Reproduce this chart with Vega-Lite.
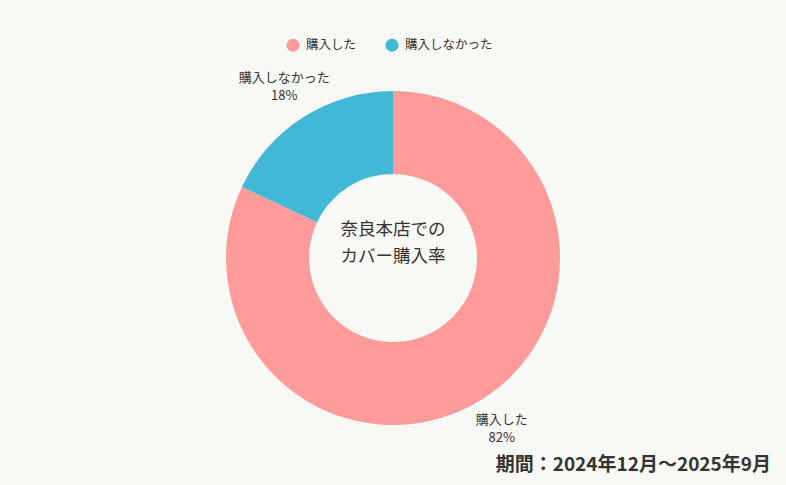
{
  "$schema": "https://vega.github.io/schema/vega-lite/v6.json",
  "width": 786,
  "height": 454,
  "autosize": {"type": "none"},
  "padding": {"top": 31, "left": 0, "right": 0, "bottom": 0},
  "background": "#F8F8F4",
  "config": {"view": {"stroke": null}, "font": "Noto Sans CJK JP"},
  "title": {
    "text": "期間：2024年12月～2025年9月",
    "orient": "bottom",
    "anchor": "end",
    "frame": "group",
    "offset": -29,
    "dx": -15,
    "fontSize": 19,
    "fontWeight": "bold",
    "color": "#333333"
  },
  "datasets": {
    "share": [
      {"label": "購入した", "value": 82, "caption": "購入した\n82%"},
      {"label": "購入しなかった", "value": 18, "caption": "購入しなかった\n18%"}
    ],
    "center": [{"text": "奈良本店での\nカバー購入率"}]
  },
  "layer": [
    {
      "data": {"name": "share"},
      "mark": {"type": "arc", "outerRadius": 167, "innerRadius": 84},
      "encoding": {
        "theta": {"field": "value", "type": "quantitative", "stack": true},
        "order": {"field": "value", "type": "quantitative", "sort": "descending"},
        "color": {
          "field": "label",
          "type": "nominal",
          "scale": {"domain": ["購入した", "購入しなかった"], "range": ["#FF9A9A", "#42B8D7"]},
          "legend": {
            "title": null,
            "orient": "none",
            "legendX": 286,
            "legendY": 7,
            "direction": "horizontal",
            "symbolType": "circle",
            "symbolSize": 170,
            "symbolStrokeWidth": 0,
            "labelFontSize": 12.5,
            "labelColor": "#333333",
            "labelOffset": 6,
            "columnPadding": 28
          }
        }
      }
    },
    {
      "data": {"name": "share"},
      "mark": {"type": "text", "radius": 203, "fontSize": 13, "color": "#333333", "lineBreak": "\n", "lineHeight": 18, "dy": -9},
      "encoding": {
        "theta": {"field": "value", "type": "quantitative", "stack": true},
        "order": {"field": "value", "type": "quantitative", "sort": "descending"},
        "text": {"field": "caption", "type": "nominal"}
      }
    },
    {
      "data": {"name": "center"},
      "mark": {"type": "text", "fontSize": 17.5, "fontWeight": "normal", "color": "#333333", "lineBreak": "\n", "lineHeight": 27, "dy": -28},
      "encoding": {
        "text": {"field": "text", "type": "nominal"}
      }
    }
  ]
}
